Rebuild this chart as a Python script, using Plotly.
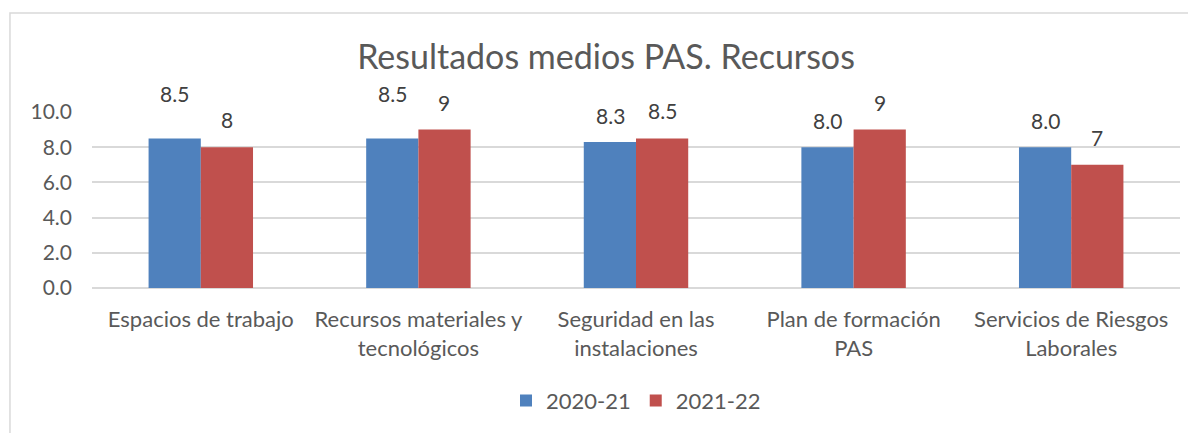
import plotly.graph_objects as go

# Datos
categorias = [
    "Espacios de trabajo",
    "Recursos materiales y<br>tecnológicos",
    "Seguridad en las<br>instalaciones",
    "Plan de formación<br>PAS",
    "Servicios de Riesgos<br>Laborales",
]
valores_2020 = [8.5, 8.5, 8.3, 8.0, 8.0]
valores_2021 = [8, 9, 8.5, 9, 7]
series = ["2020-21", "2021-22"]

AZUL = "#4F81BD"
ROJO = "#C0504D"
GRIS_TEXTO = "#595959"
FUENTE = "Lato, Open Sans, sans-serif"

fig = go.Figure()

fig.add_trace(go.Bar(
    x=categorias, y=valores_2020, name=series[0],
    marker=dict(color=AZUL, line=dict(width=0)),
    hoverinfo="y",
))
fig.add_trace(go.Bar(
    x=categorias, y=valores_2021, name=series[1],
    marker=dict(color=ROJO, line=dict(width=0)),
    hoverinfo="y",
))

# Etiquetas de datos (colocadas a mano en el original)
desplaz_2020 = [30, 30, 12, 12, 12]
desplaz_2021 = [13, 13, 13, 13, 13]
anotaciones = []
for i, cat in enumerate(categorias):
    anotaciones.append(dict(
        x=cat, y=valores_2020[i], text=f"{valores_2020[i]:.1f}",
        xshift=-26, yshift=desplaz_2020[i], yanchor="bottom",
        showarrow=False, font=dict(size=21, color="#404040", family=FUENTE),
    ))
    anotaciones.append(dict(
        x=cat, y=valores_2021[i], text=f"{valores_2021[i]:g}",
        xshift=26, yshift=desplaz_2021[i], yanchor="bottom",
        showarrow=False, font=dict(size=21, color="#404040", family=FUENTE),
    ))

# la página html añade 8px de margen al body, se compensa aquí
fig.update_layout(
    width=1196, height=433,
    margin=dict(l=84, r=24, t=104, b=153),
    paper_bgcolor="white", plot_bgcolor="white",
    barmode="group", bargap=0.52, bargroupgap=0,
    font=dict(family=FUENTE, color=GRIS_TEXTO, size=21),
    title=dict(
        text="Resultados medios PAS. Recursos",
        x=0.5, xanchor="center", y=1 - 49 / 433, yanchor="middle",
        font=dict(size=34, color=GRIS_TEXTO, family=FUENTE),
    ),
    xaxis=dict(
        showgrid=False, showline=False, ticks="", automargin=False,
        ticklabelstandoff=16,
        tickfont=dict(size=22, color=GRIS_TEXTO),
    ),
    yaxis=dict(
        range=[0, 10], dtick=2, tickformat=".1f", automargin=False,
        showgrid=True, gridcolor="#D9D9D9", gridwidth=1.5,
        zeroline=True, zerolinecolor="#D9D9D9", zerolinewidth=1.5,
        showline=False, ticks="", ticklabelstandoff=19,
        tickfont=dict(size=21, color=GRIS_TEXTO),
    ),
    legend=dict(
        orientation="h", x=0.5, xanchor="center", y=-0.64, yanchor="middle",
        font=dict(size=22, color=GRIS_TEXTO), itemwidth=30,
    ),
    annotations=anotaciones,
    shapes=[dict(
        type="rect", xref="paper", yref="paper",
        x0=-0.0754, x1=1.03, y0=-0.9, y1=1.5625,
        line=dict(color="#D9D9D9", width=1.5), fillcolor="rgba(0,0,0,0)",
        layer="below",
    )],
)

fig.write_html("out.html")
